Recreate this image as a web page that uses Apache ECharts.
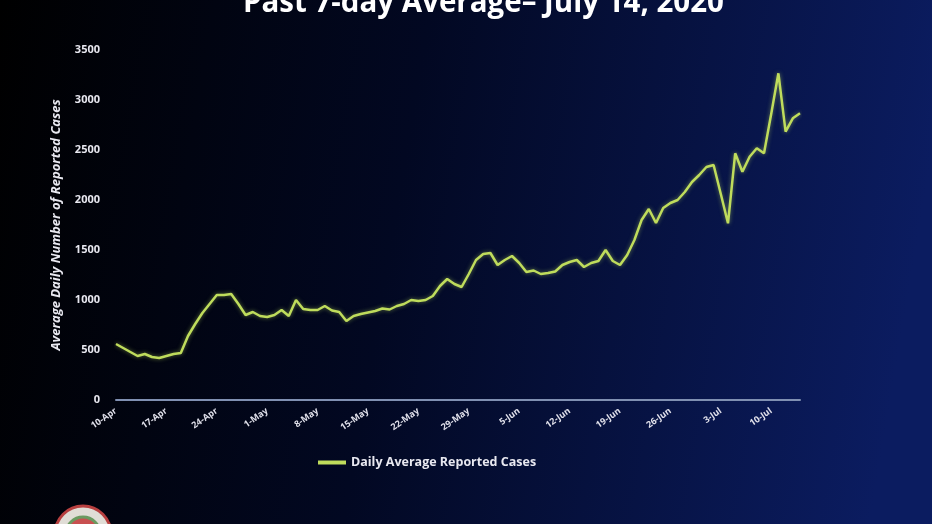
<!DOCTYPE html>
<html><head><meta charset="utf-8">
<script src="https://cdn.jsdelivr.net/npm/echarts@6/dist/echarts.min.js"></script>
<style>html,body{margin:0;padding:0;background:#000}#c{width:932px;height:524px}</style>
</head><body><div id="c"></div>
<script>
// Categories: daily dates from 10-Apr to 14-Jul (2020)
var months = ['Jan','Feb','Mar','Apr','May','Jun','Jul'];
var categories = [];
(function(){
  var d = new Date(2020, 3, 10);
  for (var i = 0; i < 96; i++) {
    categories.push(d.getDate() + '-' + months[d.getMonth()]);
    d.setDate(d.getDate() + 1);
  }
})();
var dailyAverage = [
  560, 520, 480, 440, 460, 430, 420, 440, 460, 470,
  640, 760, 870, 960, 1050, 1050, 1060, 960, 850, 880,
  840, 830, 850, 900, 840, 1000, 910, 900, 900, 940,
  895, 880, 790, 840, 860, 875, 890, 915, 905, 940,
  960, 1000, 990, 1000, 1040, 1140, 1210, 1160, 1130, 1260,
  1400, 1460, 1470, 1350, 1400, 1440, 1370, 1280, 1295, 1260,
  1270, 1285, 1350, 1380, 1400, 1330, 1370, 1390, 1500, 1390,
  1350, 1450, 1600, 1800, 1910, 1770, 1920, 1970, 2000, 2080,
  2180, 2250, 2330, 2350, 2060, 1767, 2467, 2283, 2433, 2517,
  2467, 2860, 3267, 2683, 2817, 2867
];
var titleText = 'Past 7-day Average\u2013 July 14, 2020';
var yAxisName = 'Average Daily Number of Reported Cases';
var seriesName = 'Daily Average Reported Cases';

var chart = echarts.init(document.getElementById('c'));
chart.setOption({
  backgroundColor: new echarts.graphic.LinearGradient(0, 0, 1, 0.3, [
    {offset: 0, color: '#000000'},
    {offset: 0.45, color: '#020822'},
    {offset: 1, color: '#0b1c60'}
  ]),
  title: {
    text: titleText, left: 238, top: -16,
    textStyle: {color: '#ffffff', fontSize: 29.5, fontWeight: 'bold', fontFamily: 'Open Sans'}
  },
  legend: {
    bottom: 50, left: 313, itemWidth: 28, itemHeight: 4, itemGap: 4,
    icon: 'rect',
    textStyle: {color: '#e8e8f0', fontSize: 12.5, fontWeight: 'bold', fontFamily: 'Open Sans'},
    data: [seriesName]
  },
  grid: {left: 116, right: 132, top: 50, bottom: 124, containLabel: false},
  xAxis: {
    type: 'category', data: categories, boundaryGap: false,
    axisLine: {lineStyle: {color: '#8090b2', width: 2}},
    axisTick: {show: false},
    axisLabel: {interval: 6, rotate: 35, color: '#e0e0ea', fontSize: 9, fontWeight: 'bold', fontFamily: 'Open Sans', margin: 10}
  },
  yAxis: {
    type: 'value', min: 0, max: 3500, interval: 500,
    name: yAxisName, nameLocation: 'middle', nameGap: 53, nameRotate: 90,
    nameTextStyle: {color: '#e8e8f0', fontSize: 13, fontWeight: 'bold', fontStyle: 'italic', fontFamily: 'Open Sans'},
    axisLine: {show: false}, axisTick: {show: false},
    splitLine: {show: false},
    axisLabel: {color: '#e8e8f0', fontSize: 11, fontWeight: 'bold', fontFamily: 'Open Sans', margin: 16,
      formatter: function (v) { return String(v); }}
  },
  series: [{
    name: seriesName, type: 'line', data: dailyAverage, symbol: 'none',
    lineStyle: {color: '#bfdc5c', width: 2.5, shadowColor: 'rgba(190,220,90,0.5)', shadowBlur: 4},
    itemStyle: {color: '#bfdc5c'}
  }],
  graphic: [{
    type: 'circle', shape: {cx: 83, cy: 534, r: 28},
    style: {fill: '#e0ddd6', stroke: '#b84040', lineWidth: 3}
  }, {
    type: 'circle', shape: {cx: 83, cy: 534, r: 17},
    style: {fill: '#c85050', stroke: '#6a9a60', lineWidth: 3}
  }]
});
</script>
</body></html>
